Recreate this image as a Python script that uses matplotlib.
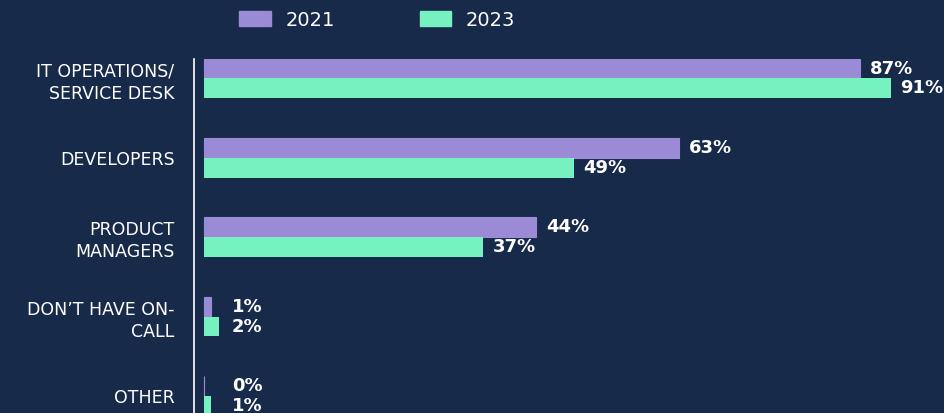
import numpy as np
import matplotlib
matplotlib.use("Agg")
import matplotlib.pyplot as plt
from matplotlib.patches import Patch

# Data
categories = ["IT OPERATIONS/\nSERVICE DESK", "DEVELOPERS", "PRODUCT\nMANAGERS",
              "DON\u2019T HAVE ON-\nCALL", "OTHER"]
values_2021 = [87, 63, 44, 1, 0]
values_2023 = [91, 49, 37, 2, 1]
years = ["2021", "2023"]

bg = "#182a4a"
purple = "#9b8ad6"
green = "#76f2c0"

fig = plt.figure(figsize=(9.45, 4.13), dpi=100, facecolor=bg)
ax = fig.add_axes([194 / 945, 0, 1 - 194 / 945, (413 - 59) / 413])
ax.set_facecolor(bg)

y = np.arange(len(categories))
h = 0.25
b1 = ax.barh(y - h / 2, values_2021, height=h, color=purple, edgecolor=purple, linewidth=0.8)
b2 = ax.barh(y + h / 2, values_2023, height=h, color=green, edgecolor=green, linewidth=0)

# value labels (small bars get their label pushed out to a minimum position)
for bars, vals in [(b1, values_2021), (b2, values_2023)]:
    for bar, v in zip(bars, vals):
        ax.text(max(bar.get_width() + 1.3, 3.7), bar.get_y() + bar.get_height() / 2, f"{v}%",
                va="center", ha="left", color="white", fontsize=13, fontweight="bold")

ax.set_xlim(-1.3, 98.2)
ax.set_ylim(4.214, -0.245)
ax.set_yticks(y)
ax.set_yticklabels(categories, color="white", fontsize=12.5, linespacing=1.3)
ax.tick_params(axis="y", length=0, pad=14)
ax.set_xticks([])

for s in ["top", "right", "bottom"]:
    ax.spines[s].set_visible(False)
ax.spines["left"].set_color("white")
ax.spines["left"].set_linewidth(1.2)

handles = [Patch(color=purple), Patch(color=green)]
fig.legend(handles, years, loc="center left", bbox_to_anchor=(222 / 945, 1 - 20 / 413),
           ncol=2, frameon=False, fontsize=14, labelcolor="white",
           handlelength=1.6, handleheight=0.82, handletextpad=0.75, columnspacing=4.4)

fig.savefig("out.png", dpi=100, facecolor=bg)
